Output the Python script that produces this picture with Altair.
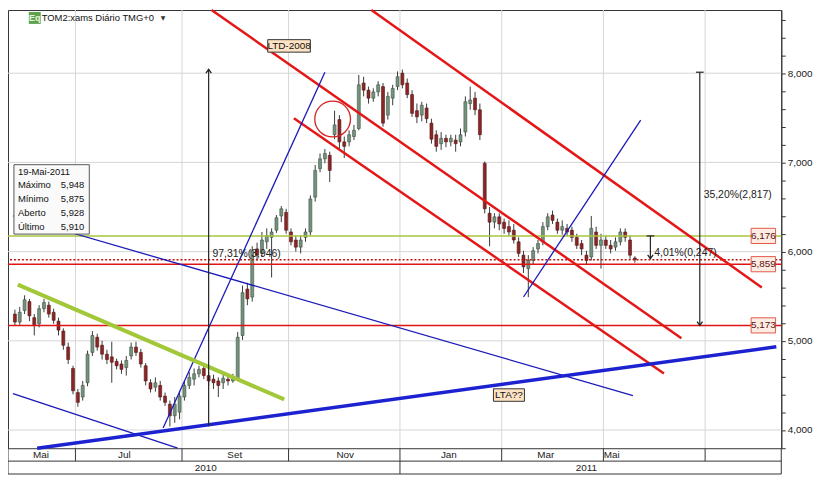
import altair as alt
import pandas as pd

# ---------------- data ----------------
opens = [5.30, 5.21, 5.34, 5.44, 5.26, 5.19, 5.36, 5.40, 5.32, 5.22,
         5.11, 4.93, 4.69, 4.42, 4.37, 4.53, 4.87, 5.04, 4.95, 4.85,
         4.82, 4.77, 4.74, 4.70, 4.83, 4.93, 4.87, 4.72, 4.53, 4.48,
         4.50, 4.38, 4.29, 4.16, 4.20, 4.37, 4.50, 4.57, 4.63, 4.69,
         4.61, 4.57, 4.55, 4.53, 4.57, 4.55, 4.57, 5.06, 5.58, 5.49,
         6.03, 5.98, 6.11, 6.16, 6.24, 6.40, 6.44, 6.22, 6.13, 6.05,
         6.16, 6.22, 6.61, 6.93, 7.04, 7.08, 7.31, 7.48, 7.23, 7.23,
         7.29, 7.38, 7.89, 7.81, 7.72, 7.79, 7.85, 7.53, 7.72, 7.85,
         8.00, 7.89, 7.76, 7.58, 7.53, 7.61, 7.44, 7.31, 7.21, 7.27,
         7.23, 7.25, 7.23, 7.34, 7.66, 7.72, 7.59, 6.99, 6.43, 6.33,
         6.39, 6.33, 6.28, 6.24, 6.11, 5.96, 5.81, 5.90, 6.03, 6.11,
         6.28, 6.41, 6.33, 6.24, 6.26, 6.24, 6.16, 6.09, 5.96, 5.94,
         6.22, 6.07, 6.13, 6.07, 6.05, 6.11, 6.22, 6.13, 5.928]
highs = [5.35, 5.38, 5.51, 5.47, 5.30, 5.40, 5.47, 5.44, 5.36, 5.26,
         5.14, 4.98, 4.72, 4.46, 4.55, 4.89, 5.11, 5.08, 5.00, 4.90,
         4.99, 4.80, 4.78, 4.83, 4.98, 4.99, 4.91, 4.75, 4.57, 4.59,
         4.55, 4.42, 4.33, 4.37, 4.44, 4.55, 4.65, 4.69, 4.72, 4.73,
         4.65, 4.62, 4.59, 4.62, 4.61, 4.63, 5.10, 5.62, 5.65, 6.06,
         6.10, 6.22, 6.26, 6.26, 6.41, 6.51, 6.48, 6.26, 6.18, 6.18,
         6.26, 6.63, 6.97, 7.10, 7.15, 7.12, 7.58, 7.53, 7.29, 7.36,
         7.42, 7.98, 7.96, 7.85, 7.83, 7.91, 7.89, 7.79, 7.87, 8.02,
         8.04, 7.94, 7.81, 7.66, 7.68, 7.66, 7.49, 7.36, 7.34, 7.31,
         7.31, 7.31, 7.38, 7.74, 7.85, 7.79, 7.66, 7.01, 6.50, 6.43,
         6.43, 6.37, 6.35, 6.31, 6.16, 6.01, 5.96, 6.05, 6.13, 6.33,
         6.43, 6.46, 6.37, 6.35, 6.31, 6.28, 6.20, 6.13, 6.01, 6.40,
         6.28, 6.20, 6.18, 6.13, 6.16, 6.26, 6.26, 6.18, 5.948]
lows = [5.17, 5.18, 5.30, 5.22, 5.06, 5.15, 5.32, 5.26, 5.19, 5.06,
        4.90, 4.74, 4.40, 4.26, 4.33, 4.49, 4.83, 4.89, 4.79, 4.74,
        4.53, 4.68, 4.63, 4.61, 4.79, 4.83, 4.70, 4.50, 4.42, 4.43,
        4.33, 4.27, 4.04, 4.08, 4.12, 4.33, 4.46, 4.50, 4.59, 4.57,
        4.50, 4.46, 4.37, 4.46, 4.50, 4.53, 4.55, 5.01, 5.40, 5.44,
        5.90, 5.94, 6.03, 5.71, 6.21, 6.33, 6.20, 6.07, 6.00, 5.98,
        6.11, 6.18, 6.56, 6.89, 6.99, 6.78, 7.26, 7.15, 7.05, 7.18,
        7.25, 7.36, 7.74, 7.66, 7.68, 7.74, 7.40, 7.48, 7.64, 7.81,
        7.83, 7.72, 7.51, 7.44, 7.46, 7.44, 7.21, 7.12, 7.14, 7.17,
        7.18, 7.12, 7.18, 7.29, 7.59, 7.53, 7.25, 6.43, 6.06, 6.26,
        6.24, 6.20, 6.18, 6.09, 5.94, 5.76, 5.49, 5.86, 5.98, 6.07,
        6.24, 6.31, 6.20, 6.19, 6.18, 6.11, 6.03, 5.96, 5.86, 5.90,
        6.03, 5.81, 6.03, 5.98, 6.01, 6.07, 6.11, 5.92, 5.875]
closes = [5.21, 5.32, 5.46, 5.28, 5.17, 5.36, 5.43, 5.30, 5.23, 5.12,
          4.95, 4.79, 4.44, 4.31, 4.50, 4.85, 5.06, 4.93, 4.85, 4.79,
          4.76, 4.72, 4.68, 4.78, 4.93, 4.87, 4.74, 4.55, 4.46, 4.53,
          4.37, 4.31, 4.16, 4.29, 4.38, 4.50, 4.59, 4.63, 4.68, 4.61,
          4.55, 4.53, 4.50, 4.58, 4.55, 4.59, 5.04, 5.54, 5.47, 6.01,
          5.96, 6.13, 6.18, 6.22, 6.38, 6.48, 6.24, 6.11, 6.05, 6.13,
          6.22, 6.59, 6.91, 7.04, 7.10, 6.91, 7.42, 7.23, 7.18, 7.31,
          7.36, 7.87, 7.81, 7.72, 7.79, 7.87, 7.44, 7.74, 7.83, 7.96,
          7.87, 7.76, 7.55, 7.51, 7.64, 7.49, 7.26, 7.18, 7.27, 7.23,
          7.27, 7.21, 7.31, 7.68, 7.70, 7.59, 7.31, 6.48, 6.33, 6.39,
          6.31, 6.26, 6.22, 6.13, 5.98, 5.83, 5.90, 6.01, 6.09, 6.28,
          6.39, 6.35, 6.24, 6.28, 6.22, 6.16, 6.07, 6.03, 5.90, 6.26,
          6.07, 6.13, 6.07, 6.03, 6.11, 6.22, 6.16, 5.96, 5.910]
last_date = "19-Mai-2011"
info_labels = ["Máximo", "Mínimo", "Aberto", "Último"]

y_ticks = [3.8, 4.0, 4.2, 4.4, 4.6, 4.8, 5.0, 5.2, 5.4, 5.6, 5.8, 6.0, 6.2,
           6.4, 6.6, 6.8, 7.0, 7.2, 7.4, 7.6, 7.8, 8.0, 8.2, 8.4, 8.6]
grid_levels = [4.0, 5.0, 6.0, 7.0, 8.0]

month_labels = ["Mai", "Jul", "Set", "Nov", "Jan", "Mar", "Mai"]
month_label_pos = [5.4, 22.6, 45.4, 68.2, 89.6, 109.6, 123.2]
month_bounds = [12.5, 34.5, 56.5, 79.5, 100.5, 121.5, 142.5]
year_labels = ["2010", "2011"]
year_label_pos = [39.4, 118.0]
year_bounds = [79.5]

level_values = [6.176, 5.859, 5.173]
level_colors = ["#a9c63c", "#e01414", "#e01414"]
last_price = 5.910

red_s1 = [73.6, 40.6, 57.6]
red_p1 = [8.708, 8.708, 7.496]
red_s2 = [154.2, 137.6, 134.0]
red_p2 = [5.598, 5.030, 4.633]

blue_s1 = [-0.4, -0.4, 30.6, 105.0]
blue_p1 = [4.408, 6.402, 4.022, 5.491]
blue_s2 = [33.6, 127.6, 64.0, 129.2]
blue_p2 = [3.796, 4.386, 8.011, 7.475]

lta_s = [4.6, 157.2]
lta_p = [3.796, 4.933]
green_s = [0.6, 55.6]
green_p = [5.630, 4.343]

arrow_s = [40.0, 141.4, 131.2]
arrow_from = [4.043, 8.011, 6.176]
arrow_to = [8.043, 5.173, 5.920]
arrow_text = ["97,31%(3,946)", "35,20%(2,817)", "4,01%(0,247)"]
arrow_text_s = [40.8, 142.2, 132.0]
arrow_text_p = [5.973, 6.638, 5.984]

box_labels = ["LTD-2008", "LTA??"]
box_s = [56.6, 102.0]
box_p = [8.306, 4.392]

circle_s = [65.6]
circle_p = [7.486]

# ---------------- layout ----------------
W, H = 780, 442
X0, X1 = -0.4, 157.2
Y0, Y1 = 3.796, 8.708
xs = alt.Scale(domain=[X0, X1], nice=False, zero=False)
ys = alt.Scale(domain=[Y0, Y1], nice=False, zero=False)
FONT = "Liberation Sans"

yaxis = alt.Axis(
    orient="right", values=y_ticks, grid=False, title=None,
    labelExpr="abs(datum.value - round(datum.value)) < 0.001 ? replace(format(datum.value, '.3f'), '.', ',') : ''",
    tickSize=4, tickColor="#333", domainColor="#333", labelColor="#222",
    labelFont=FONT, labelFontSize=10, labelPadding=2, labelOverlap=False,
    labelFlush=False,
)


def X(f):
    return alt.X(f, type="quantitative", scale=xs, axis=None)


def Y(f):
    return alt.Y(f, type="quantitative", scale=ys, axis=yaxis)


hgrid = alt.Chart(pd.DataFrame({"p": grid_levels})).mark_rule(
    color="#d6d6d6", strokeWidth=1).encode(y=Y("p"))
vgrid = alt.Chart(pd.DataFrame({"s": month_bounds})).mark_rule(
    color="#d6d6d6", strokeWidth=1).encode(x=X("s"))

cdf = pd.DataFrame({"s": list(range(len(closes))), "o": opens, "h": highs,
                    "l": lows, "c": closes})
wicks = alt.Chart(cdf).mark_rule(color="#3a3a3a", strokeWidth=1).encode(
    x=X("s"), y=Y("l"), y2="h")
bodies = alt.Chart(cdf).mark_bar(size=3, strokeWidth=0.6).encode(
    x=X("s"), y=Y("o"), y2="c",
    color=alt.condition("datum.c >= datum.o", alt.value("#74927c"), alt.value("#8a2626")),
    stroke=alt.condition("datum.c >= datum.o", alt.value("#3f5446"), alt.value("#561616")),
)

levels = alt.Chart(pd.DataFrame({"p": level_values, "col": level_colors})).mark_rule(
    strokeWidth=1.5).encode(y=Y("p"), color=alt.Color("col:N", scale=None))
dotted = alt.Chart(pd.DataFrame({"p": [last_price]})).mark_rule(
    color="#c01010", strokeWidth=1.5, strokeDash=[2, 2]).encode(y=Y("p"))


def seg(a, b, c, d):
    return pd.DataFrame({"s1": a, "p1": b, "s2": c, "p2": d})


red = alt.Chart(seg(red_s1, red_p1, red_s2, red_p2)).mark_rule(
    color="#e41616", strokeWidth=2.5).encode(x=X("s1"), y=Y("p1"), x2="s2", y2="p2")
blue = alt.Chart(seg(blue_s1, blue_p1, blue_s2, blue_p2)).mark_rule(
    color="#1a1ab8", strokeWidth=1.3).encode(x=X("s1"), y=Y("p1"), x2="s2", y2="p2")
lta = alt.Chart(seg([lta_s[0]], [lta_p[0]], [lta_s[1]], [lta_p[1]])).mark_rule(
    color="#1c22d0", strokeWidth=3.5).encode(x=X("s1"), y=Y("p1"), x2="s2", y2="p2")
green = alt.Chart(seg([green_s[0]], [green_p[0]], [green_s[1]], [green_p[1]])).mark_rule(
    color="#a2c83a", strokeWidth=4).encode(x=X("s1"), y=Y("p1"), x2="s2", y2="p2")

circle = alt.Chart(pd.DataFrame({"s": circle_s, "p": circle_p})).mark_point(
    shape="circle", size=1300, filled=False, color="#d42020", strokeWidth=1.3,
    opacity=1).encode(x=X("s"), y=Y("p"))

adf = pd.DataFrame({"s": arrow_s, "a": arrow_from, "b": arrow_to})
arrow_lines = alt.Chart(adf).mark_rule(color="#222", strokeWidth=1.2).encode(
    x=X("s"), y=Y("a"), y2="b")
up_heads = alt.Chart(adf.iloc[[0]]).mark_point(
    shape="M-1,1.4L0,0L1,1.4", size=30, filled=False, color="#222",
    strokeWidth=1.3, opacity=1).encode(x=X("s"), y=Y("b"))
down_heads = alt.Chart(adf.iloc[[1, 2]]).mark_point(
    shape="M-1,-1.4L0,0L1,-1.4", size=30, filled=False, color="#222",
    strokeWidth=1.3, opacity=1).encode(x=X("s"), y=Y("b"))
tick_df = adf.iloc[[1, 2]].copy()
tick_df["sl"] = tick_df.s - 0.8
tick_df["sr"] = tick_df.s + 0.8
top_ticks = alt.Chart(tick_df).mark_rule(color="#222", strokeWidth=1.2).encode(
    x=X("sl"), x2="sr", y=Y("a"))
arrow_labels = alt.Chart(pd.DataFrame({"s": arrow_text_s, "p": arrow_text_p, "t": arrow_text})).mark_text(
    align="left", baseline="middle", fontSize=10.5, font=FONT, color="#222").encode(
    x=X("s"), y=Y("p"), text="t:N")

bdf = pd.DataFrame({"s": box_s, "p": box_p, "t": box_labels})
bdf["s1"] = bdf.s - pd.Series([4.4, 3.2])
bdf["s2"] = bdf.s + pd.Series([4.4, 3.2])
bdf["p1"] = bdf.p - 0.07
bdf["p2"] = bdf.p + 0.07
box_rect = alt.Chart(bdf).mark_rect(
    fill="#fde3c4", stroke="#333", strokeWidth=1).encode(x=X("s1"), x2="s2", y=Y("p1"), y2="p2")
box_text = alt.Chart(bdf).mark_text(fontSize=10, font=FONT, color="#111").encode(
    x=X("s"), y=Y("p"), text="t:N")

tdf = pd.DataFrame({"p": level_values})
tdf["s1"], tdf["s2"], tdf["sc"] = 152.0, 157.05, 154.55
tdf["lo"], tdf["hi"] = tdf.p - 0.085, tdf.p + 0.085
tag_rect = alt.Chart(tdf).mark_rect(fill="#fdece3", stroke="#e05a4a", strokeWidth=1).encode(
    x=X("s1"), x2="s2", y=Y("lo"), y2="hi")
tag_text = alt.Chart(tdf).transform_calculate(
    t="replace(format(datum.p, '.3f'), '.', ',')").mark_text(
    fontSize=10, font=FONT, color="#5a1010").encode(x=X("sc"), y=Y("p"), text="t:N")

# info box (chrome)
info_vals = [highs[-1], lows[-1], opens[-1], closes[-1]]
idf = pd.DataFrame({"lab": info_labels,
                    "val": [f"{v:.3f}".replace(".", ",") for v in info_vals]})
idf["yy"] = [177 + 14 * i for i in range(len(idf))]
info_rect = alt.Chart(pd.DataFrame({"a": [0]})).mark_rect(
    fill="#fafafa", stroke="#555", strokeWidth=1).encode(
    x=alt.value(6), x2=alt.value(82), y=alt.value(156), y2=alt.value(226))
info_date = alt.Chart(pd.DataFrame({"t": [last_date]})).mark_text(
    align="left", baseline="middle", fontSize=9.5, font=FONT, color="#111").encode(
    x=alt.value(10), y=alt.value(163), text="t:N")
info_lab = alt.Chart(idf).mark_text(align="left", baseline="middle", fontSize=9.5,
                                    font=FONT, color="#111").encode(
    x=alt.value(10), y=alt.Y("yy:Q", scale=None), text="lab:N")
info_val = alt.Chart(idf).mark_text(align="right", baseline="middle", fontSize=9.5,
                                    font=FONT, color="#111").encode(
    x=alt.value(77), y=alt.Y("yy:Q", scale=None), text="val:N")

# title (chrome)
icon = alt.Chart(pd.DataFrame({"a": [0]})).mark_rect(fill="#5ea24c").encode(
    x=alt.value(21), x2=alt.value(33), y=alt.value(2), y2=alt.value(14))
icon_t = alt.Chart(pd.DataFrame({"t": ["Eq"]})).mark_text(
    fontSize=9, font=FONT, fontWeight="bold", color="#e8f5e0").encode(
    x=alt.value(27), y=alt.value(8.5), text="t:N")
title = alt.Chart(pd.DataFrame({"t": ["TOM2:xams Diário TMG+0"]})).mark_text(
    align="left", baseline="middle", fontSize=9.5, font=FONT, color="#111").encode(
    x=alt.value(34), y=alt.value(8.5), text="t:N")
drop = alt.Chart(pd.DataFrame({"t": ["▼"]})).mark_text(
    align="left", fontSize=6, font="DejaVu Sans", color="#333").encode(
    x=alt.value(154), y=alt.value(8.5), text="t:N")

# bottom date table
R0, R1, R2 = H, H + 13, H + 26
table_h = alt.Chart(pd.DataFrame({"yy": [R1, R2]})).mark_rule(color="#333", strokeWidth=1).encode(
    x=alt.value(0), x2=alt.value(W), y=alt.Y("yy:Q", scale=None))
table_edges = alt.Chart(pd.DataFrame({"xx": [0, W]})).mark_rule(color="#333", strokeWidth=1).encode(
    x=alt.X("xx:Q", scale=None), y=alt.value(R0), y2=alt.value(R2))
month_sep = alt.Chart(pd.DataFrame({"s": month_bounds})).mark_rule(color="#333", strokeWidth=1).encode(
    x=X("s"), y=alt.value(R0), y2=alt.value(R1))
year_sep = alt.Chart(pd.DataFrame({"s": year_bounds})).mark_rule(color="#333", strokeWidth=1).encode(
    x=X("s"), y=alt.value(R1), y2=alt.value(R2))
month_txt = alt.Chart(pd.DataFrame({"s": month_label_pos, "t": month_labels})).mark_text(
    baseline="middle", fontSize=10, font=FONT, color="#222").encode(
    x=X("s"), y=alt.value(R0 + 6.5), text="t:N")
year_txt = alt.Chart(pd.DataFrame({"s": year_label_pos, "t": year_labels})).mark_text(
    baseline="middle", fontSize=10, font=FONT, color="#222").encode(
    x=X("s"), y=alt.value(R1 + 6.5), text="t:N")

chart = alt.layer(
    hgrid, vgrid, wicks, bodies, levels, dotted, red, blue, lta, green, circle,
    arrow_lines, up_heads, down_heads, top_ticks, arrow_labels,
    box_rect, box_text, tag_rect, tag_text,
    info_rect, info_date, info_lab, info_val,
    icon, icon_t, title, drop,
    table_h, table_edges, month_sep, year_sep, month_txt, year_txt,
).properties(
    width=W, height=H,
    autosize=alt.AutoSizeParams(type="none"),
    padding={"left": 0, "top": 0, "right": 32, "bottom": 30},
    background="white",
).configure_view(stroke="#333", strokeWidth=1)

chart.save("out.html", embed_options={"renderer": "svg", "actions": False})
